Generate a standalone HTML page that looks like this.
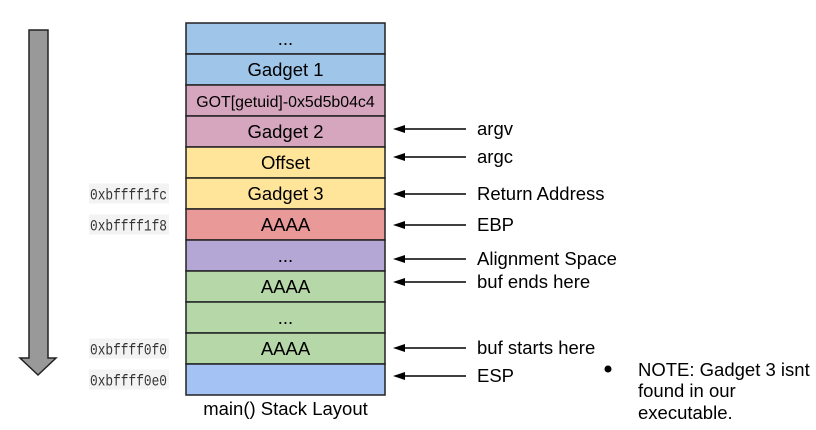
<!DOCTYPE html>
<html><head><meta charset="utf-8">
<style>
html,body{margin:0;padding:0;background:#fff;width:816px;height:430px;overflow:hidden;}
svg text{font-family:"Liberation Sans",Arial,sans-serif;}
</style></head>
<body>
<svg id="d" width="816" height="430" viewBox="0 0 816 430" xmlns="http://www.w3.org/2000/svg">
  <path d="M29,30 H48 V358 H56 L38,375 L20,358 H29 Z" fill="#999" stroke="#222" stroke-width="1.5"/>
  <g id="rows"></g>
  <g id="addrs"></g>
  <g id="ptrs"></g>
  <text x="285.5" y="415" font-size="18.5" text-anchor="middle">main() Stack Layout</text>
  <circle cx="608" cy="369" r="3.5" fill="#000"/>
  <text font-size="18.5">
    <tspan x="638" y="376">NOTE: Gadget 3 isnt</tspan>
    <tspan x="638" y="397">found in our</tspan>
    <tspan x="638" y="419">executable.</tspan>
  </text>
</svg>
<script>
const rowLabels = ["...","Gadget 1","GOT[getuid]-0x5d5b04c4","Gadget 2","Offset","Gadget 3","AAAA","...","AAAA","...","AAAA",""];
const rowColors = ["#9fc5e8","#9fc5e8","#d5a6bd","#d5a6bd","#ffe599","#ffe599","#ea9999","#b4a7d6","#b6d7a8","#b6d7a8","#b6d7a8","#a4c2f4"];
const addrLabels = ["0xbffff1fc","0xbffff1f8","0xbffff0f0","0xbffff0e0"];
const addrRows = [5,6,10,11];
const ptrLabels = ["argv","argc","Return Address","EBP","Alignment Space","buf ends here","buf starts here","ESP"];
const ptrY = [129,157,194,225,259,282,348,376];

const NS="http://www.w3.org/2000/svg";
const X0=186, W=199, Y0=23, H=31;
const rowY = i => Y0 + i*H;
const rows=document.getElementById('rows');
rowLabels.forEach((lab,i)=>{
  const r=document.createElementNS(NS,'rect');
  r.setAttribute('x',X0);r.setAttribute('y',rowY(i));r.setAttribute('width',W);r.setAttribute('height',H);
  r.setAttribute('fill',rowColors[i]);r.setAttribute('stroke','#222');r.setAttribute('stroke-width','1.5');
  
  
  rows.appendChild(r);
  if(lab){
    const t=document.createElementNS(NS,'text');
    t.setAttribute('x',X0+W/2);t.setAttribute('y',rowY(i)+H/2+6.5);
    t.setAttribute('text-anchor','middle');
    t.setAttribute('font-size', lab.length>12?'15.9':'18.5');
    t.textContent=lab;
    
    
    rows.appendChild(t);
  }
});
const addrs=document.getElementById('addrs');
addrLabels.forEach((a,i)=>{
  const y=rowY(addrRows[i])+H/2;
  const bg=document.createElementNS(NS,'rect');
  bg.setAttribute('x',89);bg.setAttribute('y',y-10);bg.setAttribute('width',a.length*7.7+3);bg.setAttribute('height',20);
  bg.setAttribute('fill','#f3f3f3');
  
  
  addrs.appendChild(bg);
  const t=document.createElementNS(NS,'text');
  t.setAttribute('x',90);t.setAttribute('y',y+6);t.setAttribute('font-size','16');
  t.setAttribute('textLength', a.length*7.7);
  t.setAttribute('lengthAdjust','spacingAndGlyphs');
  t.setAttribute('style','font-family:"Liberation Mono","DejaVu Sans Mono",monospace;fill:#333');
  t.textContent=a;
  
  
  addrs.appendChild(t);
});
const ptrs=document.getElementById('ptrs');
ptrLabels.forEach((p,i)=>{
  const y=ptrY[i];
  const l=document.createElementNS(NS,'line');
  l.setAttribute('x1',466);l.setAttribute('y1',y);l.setAttribute('x2',400);l.setAttribute('y2',y);
  l.setAttribute('stroke','#000');l.setAttribute('stroke-width','1.5');
  
  
  ptrs.appendChild(l);
  const h=document.createElementNS(NS,'path');
  h.setAttribute('d','M393,'+y+' L405,'+(y-4)+' L405,'+(y+4)+' Z');
  h.setAttribute('fill','#000');
  
  
  ptrs.appendChild(h);
  const t=document.createElementNS(NS,'text');
  t.setAttribute('x',477);t.setAttribute('y',y+6);t.setAttribute('font-size','18.5');
  t.textContent=p;
  
  
  ptrs.appendChild(t);
});
</script>
</body></html>
